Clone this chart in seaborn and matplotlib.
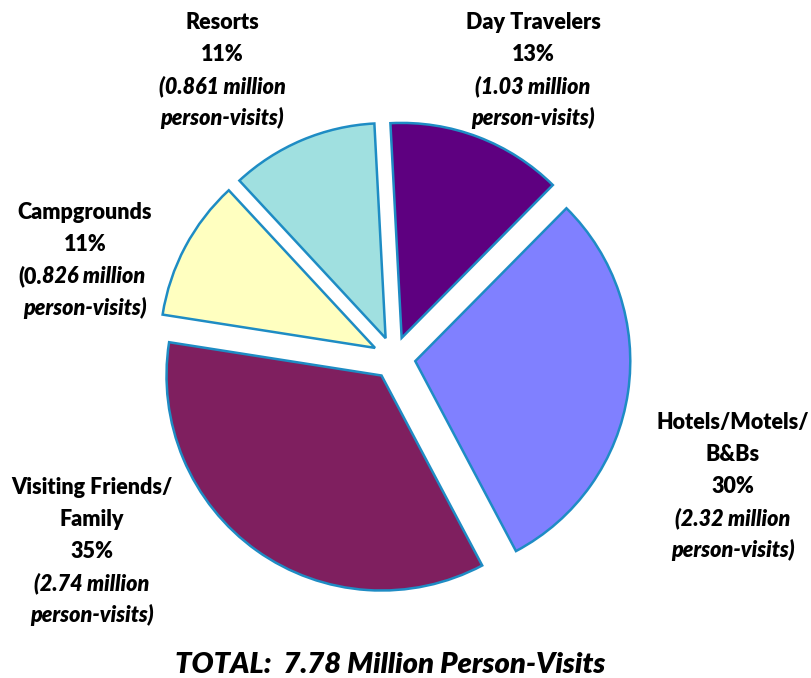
import matplotlib
matplotlib.use("Agg")
import matplotlib.pyplot as plt
import seaborn as sns

sns.set_theme(style="white")
plt.rcParams['font.family'] = ['Lato', 'DejaVu Sans']

# Data (clockwise from top)
categories = ["Day Travelers", "Hotels/Motels/\nB&Bs", "Visiting Friends/\nFamily", "Campgrounds", "Resorts"]
millions = [1.03, 2.32, 2.74, 0.826, 0.861]
pct_labels = ["13%", "30%", "35%", "11%", "11%"]
mill_labels = ["1.03", "2.32", "2.74", "0.826", "0.861"]
colors = ["#5E0080", "#8080FF", "#7F1F5F", "#FFFFC0", "#A0E0E0"]
total_label = "TOTAL:  7.78 Million Person-Visits"

W, H = 812, 678
fig = plt.figure(figsize=(W / 100, H / 100), dpi=100)
ax = fig.add_axes([0, 0, 1, 1])

R = 215.0
cx, cy = 394.0, 358.0

def px(x, y):
    return (x - cx) / R, (cy - y) / R

ax.pie(millions, colors=colors, startangle=93, counterclock=False,
       explode=[0.1] * 5, radius=1.0,
       wedgeprops=dict(edgecolor="#1E8CC4", linewidth=1.8))

ax.set_xlim(-cx / R, (W - cx) / R)
ax.set_ylim(-(H - cy) / R, cy / R)
ax.set_aspect('auto')
ax.axis('off')

# label positions (pixel centre x, first line y) and line spacing
label_pos = [(533, 22), (733, 422), (92, 487), (85, 212), (222, 22)]
lh = 32.0
fs = 15.5
fw = 'heavy'
for i, (x0, y0) in enumerate(label_pos):
    name_lines = categories[i].split("\n")
    lines = [(l, 'normal') for l in name_lines] + [(pct_labels[i], 'normal'),
             ("(" + mill_labels[i] + " million", 'italic'),
             ("person-visits)", 'italic')]
    for j, (txt, style) in enumerate(lines):
        xx, yy = px(x0, y0 + j * lh)
        if txt.startswith("(0.826"):
            # the reference sets "(0." upright, the rest italic
            sx, _ = px(42, 0)
            ax.text(sx, yy, "(0.", ha='right', va='center', fontsize=fs,
                    fontweight=fw, style='normal', color='black')
            ax.text(sx, yy, txt[3:], ha='left', va='center', fontsize=fs,
                    fontweight=fw, style='italic', color='black')
            continue
        ax.text(xx, yy, txt, ha='center', va='center', fontsize=fs,
                fontweight=fw, style=style, color='black')

tx, ty = px(390, 665)
ax.text(tx, ty, total_label, ha='center', va='center', fontsize=21,
        fontweight=fw, style='italic', color='black')

fig.savefig("out.png", dpi=100)
